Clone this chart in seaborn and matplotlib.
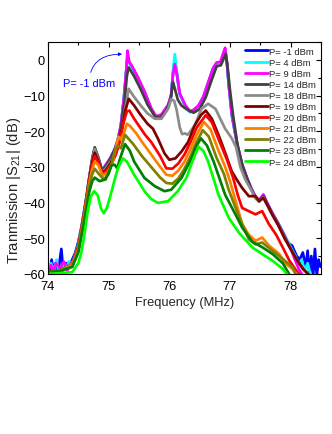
import numpy as np
import pandas as pd
import matplotlib
matplotlib.use("Agg")
import matplotlib.pyplot as plt
import seaborn as sns
from matplotlib.ticker import MultipleLocator

# ---------------- data ----------------
labels = ["P= -1 dBm", "P= 4 dBm", "P= 9 dBm", "P= 14 dBm", "P= 18 dBm", "P= 19 dBm",
          "P= 20 dBm", "P= 21 dBm", "P= 22 dBm", "P= 23 dBm", "P= 24 dBm"]
colors = ["#0000ff", "#00ffff", "#ff00ff", "#404040", "#8c8c8c", "#800000",
          "#ff0000", "#ff8000", "#808000", "#008000", "#00ff00"]

f_m1 = [74.0, 74.03, 74.06, 74.08, 74.12, 74.15, 74.18, 74.22, 74.25, 74.3, 74.35, 74.4, 74.45, 74.5, 74.55,
        74.6, 74.65, 74.7, 74.74, 74.77, 74.82, 74.89, 74.95, 75.03, 75.1, 75.15, 75.2, 75.25, 75.29, 75.31,
        75.34, 75.38, 75.48, 75.59, 75.7, 75.78, 75.87, 75.98, 76.03, 76.06, 76.09, 76.12, 76.17, 76.26, 76.34,
        76.4, 76.48, 76.56, 76.65, 76.72, 76.78, 76.84, 76.89, 76.92, 76.95, 76.98, 77.03, 77.12, 77.2, 77.28,
        77.35, 77.42, 77.48, 77.55, 77.62, 77.7, 77.8, 77.9, 77.97, 78.02, 78.06, 78.1, 78.15, 78.2, 78.25,
        78.28, 78.31, 78.34, 78.37, 78.4, 78.43, 78.46, 78.49]
db_m1 = [-58, -59, -56, -59, -57, -60, -58, -53, -59, -57, -58, -56, -54, -51, -47,
         -42, -37, -31, -27, -25, -27, -31, -29.5, -27.5, -25, -22.5, -18.5, -11, -3, 1.0,
         -0.8, -1.8, -5, -9, -13.7, -16, -15.5, -12.8, -10, -4, 0.0, -3.5, -9.5, -12.8, -14.6,
         -14.2, -13, -10.5, -6, -2.5, -0.9, -0.8, 1.2, 2.2, -1, -7.2, -15.5, -23.9, -29.4, -33.1,
         -36, -38.5, -39.5, -37.8, -40.5, -43, -46, -49.5, -51.5, -52, -53.5, -55, -56, -54, -58,
         -53.5, -60.5, -55, -60.5, -53, -60.5, -56, -58]

f_4 = [74.0, 74.05, 74.1, 74.14, 74.18, 74.24, 74.3, 74.34, 74.4, 74.45, 74.5, 74.55,
       74.6, 74.65, 74.7, 74.74, 74.77, 74.82, 74.89, 74.95, 75.03, 75.1, 75.15, 75.2, 75.25, 75.29, 75.31,
       75.34, 75.38, 75.48, 75.59, 75.7, 75.78, 75.87, 75.98, 76.03, 76.06, 76.09, 76.12, 76.17, 76.26, 76.34,
       76.4, 76.48, 76.56, 76.65, 76.72, 76.78, 76.84, 76.89, 76.92, 76.95, 76.98, 77.03, 77.12, 77.2, 77.28,
       77.35, 77.42, 77.48, 77.55, 77.62, 77.7, 77.8, 77.9, 78.0, 78.08, 78.13, 78.18, 78.23, 78.28, 78.33]
db_4 = [-58.5, -57, -59, -56, -59.5, -57.5, -59, -56.5, -57.5, -55, -51.5, -47,
        -42, -37, -31, -27, -25, -27, -31, -29.5, -27.5, -25, -22.5, -18.5, -11, -3, 1.5,
        -0.8, -1.8, -5, -9, -13.7, -16, -15.5, -12.8, -10, -3, 1.6, -3, -9.5, -12.8, -14.6,
        -14.2, -13, -10.5, -6, -2.5, -0.9, -0.8, 1.5, 2.6, -1, -7.2, -15.5, -23.9, -29.4, -33.1,
        -36, -38.5, -39.5, -37.8, -40.5, -43, -46, -49, -52.5, -55, -57.5, -56, -59, -57, -60.5]

f_9 = [74.0, 74.05, 74.09, 74.13, 74.2, 74.26, 74.32, 74.38, 74.43, 74.5, 74.55,
       74.6, 74.65, 74.7, 74.74, 74.77, 74.82, 74.89, 74.95, 75.03, 75.1, 75.15, 75.2, 75.25, 75.29, 75.31,
       75.34, 75.38, 75.48, 75.59, 75.7, 75.78, 75.87, 75.98, 76.03, 76.06, 76.09, 76.12, 76.17, 76.26, 76.34,
       76.4, 76.48, 76.56, 76.65, 76.72, 76.78, 76.84, 76.89, 76.92, 76.95, 76.98, 77.03, 77.12, 77.2, 77.28,
       77.35, 77.42, 77.48, 77.55, 77.62, 77.7, 77.8, 77.9, 78.0, 78.07, 78.13, 78.2]
db_9 = [-59, -57.5, -59.5, -57, -58.5, -56.5, -59, -57, -56, -52, -47.5,
        -42, -37, -31, -27, -25, -27, -31, -29.5, -27.5, -25, -22.5, -18.5, -11, -3, 2.6,
        -0.6, -1.6, -4.8, -8.8, -13.5, -15.8, -15.3, -12.6, -9.8, -4, -1.2, -3.5, -9.3, -12.6, -14.4,
        -14, -12.8, -10.3, -5.8, -2.3, -0.7, -0.6, 2.0, 3.4, -0.6, -7, -15.3, -23.7, -29.2, -33,
        -36, -38.3, -39.3, -37.8, -40.3, -43, -46, -49.3, -53, -56, -58.5, -60.5]

f_14 = [74.0, 74.2, 74.4, 74.5, 74.6, 74.67, 74.73, 74.77, 74.82, 74.89, 74.95, 75.03, 75.1, 75.15,
        75.2, 75.26, 75.3, 75.33, 75.42, 75.53, 75.64, 75.76, 75.85, 75.95, 76.02, 76.06, 76.09, 76.14,
        76.2, 76.3, 76.4, 76.5, 76.6, 76.7, 76.78, 76.85, 76.9, 76.93, 76.96, 77.0, 77.05, 77.12, 77.2, 77.28,
        77.35, 77.42, 77.48, 77.55, 77.62, 77.7, 77.8, 77.9, 78.0, 78.1, 78.2, 78.3]
db_14 = [-59.5, -59, -57, -52, -42.5, -34, -27.5, -24.5, -27, -31, -30, -27.7, -25.2, -23,
         -19.5, -12, -4.5, -2.1, -4.6, -8.3, -12.5, -15.8, -16.2, -14.2, -11.2, -6.3, -8, -11.2,
         -12.8, -14, -14.8, -13.8, -10.5, -5.5, -1.8, -1.5, 0.5, 1.6, -2, -8.5, -15.5, -23.5, -29.5, -33.3,
         -36.2, -38.7, -39.6, -38.2, -40.7, -43.3, -46.3, -49.8, -53, -56, -58.5, -60.2]

f_18 = [74.0, 74.2, 74.4, 74.5, 74.6, 74.67, 74.73, 74.77, 74.82, 74.89, 74.95, 75.03, 75.1, 75.15,
        75.2, 75.26, 75.33, 75.42, 75.53, 75.64, 75.76, 75.87, 75.98, 76.03, 76.08, 76.12, 76.17, 76.21,
        76.26, 76.3, 76.34, 76.42, 76.53, 76.64, 76.76, 76.92, 77.03, 77.1, 77.17, 77.25, 77.3,
        77.35, 77.42, 77.48, 77.55, 77.62, 77.7, 77.8, 77.9, 78.0, 78.1, 78.2, 78.3]
db_18 = [-59.5, -59, -57, -52, -42.5, -34, -28, -25, -27.5, -31.5, -30.5, -28.5, -26.5, -24.5,
         -21.5, -15, -8.1, -10.4, -12.8, -15, -16.5, -16.5, -13.7, -11, -11.5, -14, -18.8, -20.8,
         -20.6, -21, -20.2, -18.3, -13.7, -12.3, -13.7, -19.3, -22, -24.5, -30, -33.5, -35,
         -36.5, -38.8, -39.8, -38.5, -41, -43.5, -46.5, -50, -53, -56, -58.5, -60.3]

f_19 = [74.0, 74.2, 74.4, 74.5, 74.6, 74.67, 74.73, 74.77, 74.82, 74.89, 74.95, 75.03, 75.1, 75.15,
        75.2, 75.27, 75.33, 75.42, 75.53, 75.64, 75.73, 75.81, 75.92, 76.0, 76.1, 76.2, 76.31, 76.42,
        76.52, 76.6, 76.7, 76.81, 76.92, 77.03, 77.12, 77.2, 77.31, 77.42, 77.48, 77.55, 77.62, 77.7,
        77.8, 77.9, 78.0, 78.1, 78.2, 78.3]
db_19 = [-59.5, -59, -57.5, -52.5, -43, -34.5, -28.5, -26, -28, -31.5, -31, -29, -26.5, -24.5,
         -21, -14.5, -10.9, -12.8, -15.5, -17.9, -19.3, -22, -26.2, -28, -27.6, -25.7, -23, -18.3,
         -15.5, -14.2, -16.5, -21, -26, -31.3, -33.8, -35.9, -38.2, -38.2, -39.6, -38.7, -40.8, -43.5,
         -46.5, -50, -53, -56, -58.5, -60.3]

f_20 = [74.0, 74.2, 74.4, 74.5, 74.6, 74.67, 74.73, 74.77, 74.82, 74.9, 74.97, 75.05, 75.12, 75.18,
        75.24, 75.3, 75.34, 75.42, 75.5, 75.6, 75.7, 75.85, 75.95, 76.05, 76.15, 76.25, 76.35, 76.45,
        76.6, 76.7, 76.83, 76.95, 77.05, 77.13, 77.2, 77.31, 77.42, 77.53, 77.64, 77.76, 77.87, 77.98,
        78.09, 78.16]
db_20 = [-59.5, -59, -57.5, -52.5, -43, -35, -29.5, -27, -28.5, -32, -31, -29, -26.5, -23,
         -18, -14.4, -14.2, -16.5, -18.5, -21, -23, -27, -30.4, -30.5, -29, -26.5, -23, -19,
         -15.5, -17.5, -23, -28, -33, -38, -41.5, -42.4, -43.3, -42.4, -46, -49, -52.6, -56.3,
         -59, -60.5]

f_21 = [74.0, 74.2, 74.4, 74.5, 74.6, 74.67, 74.73, 74.77, 74.83, 74.9, 74.98, 75.05, 75.12, 75.16,
        75.2, 75.25, 75.3, 75.35, 75.45, 75.55, 75.7, 75.85, 75.95, 76.05, 76.15, 76.25, 76.35, 76.45,
        76.57, 76.68, 76.8, 76.92, 77.0, 77.1, 77.2, 77.31, 77.42, 77.53, 77.64, 77.81, 77.92, 78.03,
        78.12]
db_21 = [-59.5, -59, -57.5, -53, -43.5, -35.5, -30.5, -28.5, -29.5, -32.5, -31.5, -29.5, -24.5, -21.5,
         -22.3, -20.5, -17.9, -18.5, -20.5, -23, -26.5, -30, -32.2, -32.5, -31, -28.5, -25, -21,
         -17.4, -19.5, -25, -30, -34, -40, -46, -49, -50.7, -49.8, -52, -54.4, -57.2, -58.6,
         -60.5]

f_22 = [74.0, 74.2, 74.4, 74.5, 74.6, 74.67, 74.73, 74.77, 74.84, 74.92, 75.0, 75.06, 75.1, 75.15,
        75.2, 75.27, 75.4, 75.55, 75.7, 75.85, 75.95, 76.05, 76.15, 76.25, 76.35, 76.45, 76.55, 76.65,
        76.78, 76.9, 76.98, 77.15, 77.31, 77.42, 77.53, 77.7, 77.87, 78.03, 78.09]
db_22 = [-59.5, -59, -58, -53.5, -44, -36, -32, -30.5, -32, -33.5, -32, -28.5, -25.5, -24,
         -24.8, -21, -23.5, -27, -30, -33, -34.5, -34.7, -33.2, -30.5, -27, -23, -19.7, -21.5,
         -27.5, -32, -36.5, -44, -50.3, -51.7, -51.2, -53.5, -55.8, -58.1, -60.5]

f_23 = [74.0, 74.2, 74.4, 74.5, 74.6, 74.68, 74.73, 74.77, 74.85, 74.95, 75.05, 75.1, 75.14, 75.2,
        75.27, 75.35, 75.42, 75.59, 75.76, 75.92, 76.03, 76.2, 76.34, 76.45, 76.52, 76.62, 76.73,
        76.92, 77.12, 77.2, 77.37, 77.53, 77.7, 77.87, 77.99]
db_23 = [-59.5, -59.2, -58, -54, -45, -37, -34, -33, -34, -33.5, -29.5, -29.4, -30.4, -27,
         -23.6, -25.5, -28.5, -33.1, -35.4, -36.8, -36.4, -33.1, -28.5, -24, -22, -24, -28.5,
         -37.8, -44.3, -47, -51, -52.5, -54.4, -57, -60.5]

f_24 = [74.0, 74.2, 74.4, 74.5, 74.55, 74.6, 74.65, 74.7, 74.76, 74.82, 74.87, 74.92, 74.97, 75.03,
        75.1, 75.15, 75.23, 75.3, 75.42, 75.59, 75.7, 75.81, 75.98, 76.14, 76.28, 76.38, 76.48, 76.56,
        76.64, 76.81, 76.98, 77.15, 77.37, 77.53, 77.7, 77.87, 77.96]
db_24 = [-60, -59.8, -59.5, -57, -54, -49, -43, -38.5, -36.8, -38, -41.5, -43, -41.5, -38,
         -33.5, -30.5, -27.6, -28.5, -32.2, -36.8, -39, -40.1, -39.6, -36.8, -33.1, -28.5, -24.3, -25.5,
         -28.5, -37.8, -44.3, -48.5, -52.6, -54.4, -56.3, -58.6, -60.5]

freqs = [f_m1, f_4, f_9, f_14, f_18, f_19, f_20, f_21, f_22, f_23, f_24]
dbs = [db_m1, db_4, db_9, db_14, db_18, db_19, db_20, db_21, db_22, db_23, db_24]

rows = []
for lab, fr, d in zip(labels, freqs, dbs):
    for a, b in zip(fr, d):
        rows.append((lab, a, b))
df = pd.DataFrame(rows, columns=["power", "freq", "db"])

# ---------------- style ----------------
sns.set_style("white")
plt.rcParams["font.family"] = ["Liberation Sans", "DejaVu Sans"]
plt.rcParams["mathtext.fontset"] = "custom"
plt.rcParams["mathtext.rm"] = "Liberation Sans"
plt.rcParams["mathtext.default"] = "regular"

fig = plt.figure(figsize=(3.32, 4.35), dpi=100)
ax = fig.add_axes([0.1446, 0.368, 0.9669 - 0.1446, 0.901 - 0.368])

sns.lineplot(data=df, x="freq", y="db", hue="power", hue_order=labels,
             palette=dict(zip(labels, colors)), sort=False, estimator=None,
             linewidth=1.95, ax=ax, legend=True)

ax.set_xlim(74, 78.5)
ax.set_ylim(-60, 5)
ax.xaxis.set_major_locator(MultipleLocator(1))
ax.xaxis.set_minor_locator(MultipleLocator(0.5))
ax.yaxis.set_major_locator(MultipleLocator(10))
ax.yaxis.set_minor_locator(MultipleLocator(5))
ax.tick_params(which="both", direction="in", top=True, right=True, color="black", width=0.8)
ax.tick_params(which="major", length=3.5, labelsize=9.3, labelcolor="black")
ax.tick_params(axis="x", which="major", pad=4.5)
ax.tick_params(axis="y", which="major", pad=2)
ax.tick_params(which="minor", length=2)
for s in ax.spines.values():
    s.set_color("black")
    s.set_linewidth(0.8)

ax.set_xlabel("Frequency (MHz)", fontsize=9.3, labelpad=3)
ax.set_ylabel("Tranmission |S$_{21}$| (dB)", fontsize=10.6)
ax.yaxis.set_label_coords(-0.093, 0.3625)

handles, labs = ax.get_legend_handles_labels()
leg = ax.legend(handles, labs, loc="upper right", bbox_to_anchor=(1.0, 1.0), frameon=False,
                fontsize=6.8, handlelength=2.4, handletextpad=0.15, labelspacing=0.22,
                borderaxespad=0.3, borderpad=0.2)
for h in leg.get_lines():
    h.set_linewidth(2.0)

ax.annotate("P= -1 dBm", xy=(75.22, 1.6), xytext=(74.68, -6.6), color="blue", fontsize=7.9,
            ha="center", va="center",
            arrowprops=dict(arrowstyle="-|>", color="blue", lw=0.6, mutation_scale=5,
                            connectionstyle="angle3,angleA=90,angleB=0", shrinkA=2, shrinkB=0))

fig.savefig("out.png", dpi=100)
